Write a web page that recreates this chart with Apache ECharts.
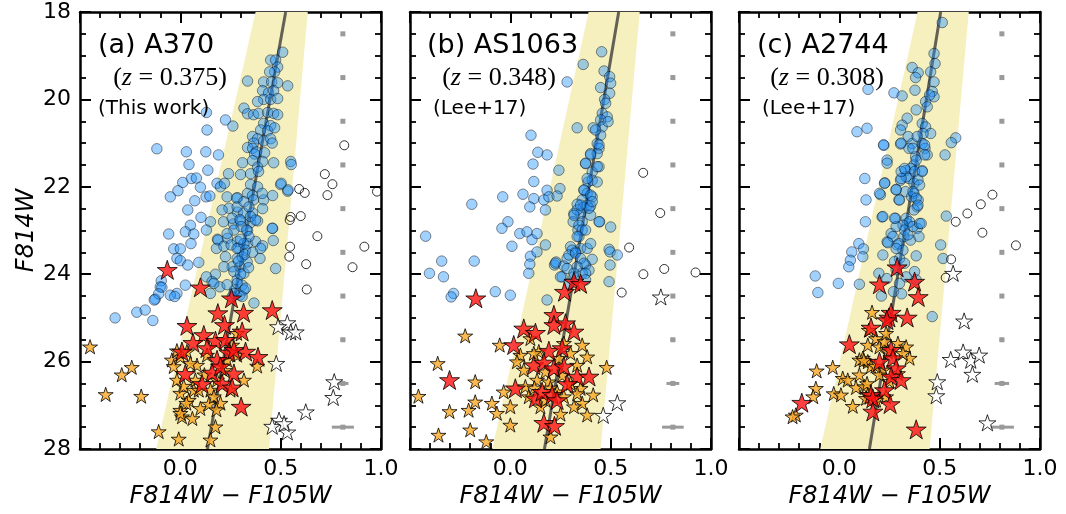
<!DOCTYPE html>
<html><head><meta charset="utf-8">
<script src="https://cdn.jsdelivr.net/npm/echarts@6/dist/echarts.min.js"></script>
<style>html,body{margin:0;padding:0;background:#fff}#c{width:1066px;height:514px}</style>
</head><body><div id="c"></div>
<script>
// ---------- DATA ----------
const panelNames = ['(a) A370', '(b) AS1063', '(c) A2744'];
const redshifts = ['0.375', '0.348', '0.308'];
const refs = ['(This work)', '(Lee+17)', '(Lee+17)'];
const xTicks = [-0.5, 0.0, 0.5, 1.0];
const yTicks = [18, 20, 22, 24, 26, 28];

// red-sequence line endpoints [x, mag]
const lineA = [[0.525, 18], [0.135, 28]];
const lineB = [[0.54, 18], [0.17, 28]];
const lineC = [[0.505, 18], [0.15, 28]];
// selection band corners [x, mag]
const bandA = [[0.375, 18], [0.635, 18], [0.442, 28], [-0.12, 28]];
const bandB = [[0.39, 18], [0.645, 18], [0.45, 28], [-0.09, 28]];
const bandC = [[0.39, 18], [0.645, 18], [0.45, 28], [-0.095, 28]];

// typical errors
const errColor = 0.81;
const errMags = [18.5, 19.5, 20.5, 21.5, 22.5, 23.5, 24.5, 25.5, 26.5, 27.5];
const errA = [0.002, 0.002, 0.002, 0.003, 0.003, 0.005, 0.008, 0.012, 0.028, 0.055];
const errB = [0.002, 0.002, 0.002, 0.003, 0.003, 0.005, 0.008, 0.012, 0.032, 0.054];
const errC = [0.002, 0.002, 0.002, 0.003, 0.003, 0.005, 0.008, 0.012, 0.036, 0.06];

// ---- Panel A (A370) ----
const blueA = [
[0.51,18.92],[0.45,19.1],[0.475,19.1],[0.485,19.26],[0.47,19.37],[0.445,19.37],[0.335,19.58],[0.415,19.6],[0.455,19.6],[0.485,19.62],[0.535,19.69],[0.41,19.8],[0.44,19.85],[0.465,19.8],[0.415,20.0],[0.45,20.0],[0.485,19.98],[0.385,20.05],[0.317,20.2],[0.335,20.33],[0.365,20.35],[0.39,20.32],[0.435,20.3],[0.465,20.32],[0.485,20.35],[0.415,20.55],[0.45,20.6],[0.40,20.7],[0.435,20.72],[0.47,20.65],
[0.13,20.3],[0.225,20.47],[0.262,20.61],[0.133,20.7],
[0.36,20.85],[0.385,20.9],[0.365,21.0],[0.415,20.95],[0.45,20.9],[0.335,21.1],[0.36,21.12],[0.38,21.2],[0.37,21.25],[0.42,21.22],[0.31,21.45],[0.36,21.4],[0.41,21.42],[0.465,21.45],[0.55,21.42],[0.385,21.55],[0.24,21.7],[0.30,21.72],[0.35,21.7],[0.39,21.65],[0.35,21.95],[0.385,22.0],[0.50,21.95],[0.535,22.1],[0.285,22.25],[0.335,22.15],[0.36,22.2],[0.365,22.3],[0.415,22.3],[0.46,22.2],[0.285,22.58],[0.315,22.6],[0.36,22.6],[0.41,22.5],[0.15,22.8],[0.215,22.8],[0.265,22.85],[0.30,22.78],[0.35,22.82],[0.385,22.78],[0.46,22.95],[0.335,23.0],[0.185,23.2],[0.235,23.18],[0.285,23.25],[0.335,23.3],[0.375,23.25],[0.41,23.35],[0.29,23.4],
[0.233,22.23],[0.28,22.26],[0.242,22.49],[0.283,22.46],[0.317,22.34],[0.258,22.72],[0.297,22.75],[0.303,22.91],[0.267,22.99],[0.233,23.07],[0.188,23.22],[0.18,23.41],[0.217,23.36],[0.253,23.33],[0.283,23.41],[0.225,23.6],[0.283,23.64],[0.258,23.83],[0.217,23.83],[0.175,24.0],[0.13,24.06],[0.158,24.17],[0.197,24.29],[0.15,24.44],
[0.458,22.95],[0.463,23.23],[0.4,23.41],[0.397,23.64],[0.475,23.87],[0.408,22.15],[0.503,21.92],[0.537,22.07],[0.553,21.49],[0.458,21.0],
[0.342,22.46],[0.35,22.68],[0.375,22.76],[0.33,22.99],[0.342,23.14],[0.317,23.3],[0.325,23.45],[0.308,23.6],[0.333,23.72],[0.297,23.83],[0.267,23.94],[0.317,23.98],[0.283,24.13],[0.308,24.25],[0.27,24.36],[0.297,24.48],[0.258,24.52],[0.283,24.21],[0.317,24.36],[0.308,24.51],[0.233,24.24],[0.167,24.21],[0.367,24.66],[0.325,24.32],[0.267,24.44],[0.3,23.2],[0.32,23.55],[0.29,23.7],[0.34,23.85],[0.3,24.0],[0.36,23.5],
[-0.117,21.13],[0.03,21.2],[0.127,21.2],[0.19,21.27],[0.043,21.49],[0.137,21.62],[0.055,21.81],[0.08,21.8],[0.012,21.9],[-0.012,22.09],[0.10,22.01],[-0.05,22.23],[0.072,22.32],[0.128,22.23],[0.147,22.21],[0.037,22.53],[0.103,22.7],[0.13,22.99],[0.05,22.88],[0.025,23.03],[0.067,23.08],[-0.058,23.08],[0.053,23.3],[-0.033,23.42],[0.0,23.42],[-0.017,23.64],[0.0,23.69],[0.037,23.79],[0.092,23.73],[-0.095,24.15],[-0.1,24.29],[0.025,24.25],[-0.017,24.44],[-0.05,24.48],[-0.125,24.57],[-0.092,24.3],[-0.108,24.45],[-0.13,24.59],[-0.028,24.51],[-0.217,24.87],[-0.175,24.82],[-0.325,25.0],[-0.137,25.06],[0.183,21.92],[0.2,22.0],[0.22,21.92],[0.208,22.53]
];
const openA = [[0.817,21.05],[0.72,21.71],[0.758,21.94],[0.733,22.19],[0.592,22.05],[0.62,22.14],[0.98,22.11],[0.55,22.69],[0.6,22.67],[0.545,22.76],[0.683,23.13],[0.917,23.37],[0.547,23.37],[0.543,23.6],[0.627,23.77],[0.858,23.84],[0.63,24.35]];
const orangeA = [[-0.45,25.66],[-0.242,26.13],[-0.292,26.3],[-0.372,26.75],[-0.195,26.79],[-0.108,27.6],[-0.008,27.77],[0.15,27.79],[0.175,27.49],[0.2,26.95],[0.1,27.07],[0.142,26.97],[0.0,27.11],[0.008,27.26],[0.042,26.88],[0.0,26.72],[0.017,26.56],[0.067,26.65],[0.15,26.65],[0.317,26.42],[0.383,26.1],[-0.042,25.96],[-0.033,26.11],[0.0,25.89],[-0.017,25.75],[0.083,26.08],[0.133,25.85],[0.233,25.96],[0.283,25.85],[0.258,25.62],[0.033,25.77],[0.075,26.42],[0.183,26.42],[-0.017,26.42],[0.283,25.35],[0.05,26.04],[0.167,26.8],[0.092,26.65],[0.25,26.65],[0.0,27.18],[0.12,26.3],[0.22,26.2],[0.03,26.95],[0.06,27.3],[0.18,27.1]];
const redA = [[-0.065,23.9],[0.1,24.3],[0.255,24.55],[0.187,24.89],[0.315,24.88],[0.458,24.82],[0.033,25.18],[0.22,25.16],[0.308,25.31],[0.117,25.39],[0.175,25.52],[0.063,25.57],[0.225,25.5],[0.008,25.77],[0.133,25.69],[0.242,25.79],[0.325,25.77],[0.387,25.89],[0.183,25.96],[0.267,25.73],[0.025,26.28],[0.158,26.25],[0.267,26.27],[0.108,26.51],[0.208,26.5],[0.258,26.59],[0.303,27.03],[0.2,26.11]];
const whiteA = [[0.533,25.11],[0.487,25.2],[0.55,25.32],[0.575,25.32],[0.478,26.04],[0.767,26.46],[0.762,26.82],[0.625,27.15],[0.492,27.34],[0.458,27.48],[0.533,27.61],[0.517,27.42]];

// ---- Panel B (AS1063) ----
const blueB = [
[0.455,18.91],[0.363,19.2],[0.467,19.35],[0.495,19.48],[0.5,19.63],[0.283,19.6],[0.45,19.73],[0.495,19.86],[0.47,20.0],[0.475,20.09],[0.458,20.32],[0.483,20.4],[0.45,20.47],[0.333,20.65],[0.413,20.65],[0.458,20.63],[0.487,20.51],[0.45,20.82],[0.103,20.82],[0.433,21.01],[0.442,21.12],[0.4,21.24],[0.433,21.24],[0.137,21.21],[0.183,21.27],[0.113,21.48],[0.375,21.47],[0.442,21.54],[0.408,21.66],[0.387,21.89],[0.408,21.85],[0.433,21.89],[0.242,21.62],[0.117,21.88],[0.183,22.08],[0.247,22.04],[0.367,22.08],[0.383,22.15],[0.408,22.23],[0.358,22.3],[0.063,22.17],[0.117,22.27],[0.167,22.3],[0.097,22.46],[0.192,22.23],[0.175,22.53],[-0.038,22.23],[-0.192,22.4],[0.333,22.4],[0.363,22.47],[0.383,22.42],[0.4,22.44],[0.35,22.61],[0.317,22.61],[0.445,22.8],[0.313,22.8],[0.358,22.8],[0.337,22.99],[0.342,23.14],[0.5,22.92],[-0.012,22.8],[-0.042,22.95],[0.047,23.07],[0.083,23.03],[0.108,23.21],[0.133,23.07],[-0.422,23.13],[0.008,23.36],[0.175,23.33],[0.492,23.43],[0.3,23.37],[0.35,23.41],[0.383,23.41],
[-0.342,23.7],[-0.403,23.98],[-0.333,24.06],[-0.18,23.7],[0.1,23.59],[0.097,23.77],[0.092,23.98],[0.22,23.79],[0.228,23.72],[-0.283,24.44],[-0.295,24.52],[-0.075,24.4],[0.0,24.48],[0.133,23.49],[0.183,24.59],[0.225,23.75],[0.267,23.81],[0.283,23.64],[0.325,23.49],[0.375,23.79],[0.392,23.91],[0.408,23.66],[0.358,23.98],[0.317,24.06],[0.258,24.06],[0.497,23.49],[0.533,23.56],[0.492,24.17],[0.308,23.45],[0.292,23.56],[0.325,23.52],[0.35,23.64],[0.367,23.75],[0.283,23.87],[0.333,23.83],[0.317,23.98],[0.375,23.98],[0.442,22.8],[0.4,22.65],[0.497,23.79],[0.25,24.06],[0.292,24.21],[0.375,24.13],[0.333,22.53],[0.392,22.49],[0.317,22.65],[0.342,22.88],[0.358,22.99],[0.333,23.14],[0.375,22.99],[0.4,23.3],[0.425,20.7],[0.442,21.04],[0.4,21.27],[0.433,21.54],[0.375,21.46],[0.383,21.81],[0.367,22.07],[0.4,22.19],[0.35,22.42],[0.408,22.34],[0.233,22.21]
];
const openB = [[0.662,21.68],[0.747,22.6],[0.592,23.39],[0.663,24.0],[0.767,23.88],[0.923,23.96],[0.555,24.42]];
const orangeB = [[-0.225,25.41],[-0.362,26.04],[-0.458,26.79],[-0.175,26.46],[-0.303,27.14],[-0.208,27.11],[-0.175,26.92],[-0.2,27.56],[-0.358,27.68],[-0.12,27.83],[-0.092,26.95],[-0.067,27.18],[0.0,27.03],[0.0,27.45],[-0.033,26.69],[-0.053,25.62],[0.05,25.85],[0.033,26.0],[0.067,26.19],[0.1,25.47],[0.142,25.77],[0.075,26.57],[0.133,26.42],[0.192,26.46],[0.258,26.31],[0.3,25.81],[0.358,25.62],[0.413,26.76],[0.333,26.08],[0.383,27.22],[0.48,26.13],[0.358,26.95],[0.317,27.03],[0.233,26.69],[0.2,27.72],[0.15,27.03],[0.267,25.58],[0.242,25.92],[0.175,26.23],[0.267,26.8],[0.35,26.61],[0.117,25.81],[0.092,26.8],[0.175,26.88],[0.333,26.73],[0.383,25.89],[0.2,26.6],[0.12,26.6],[0.25,27.2],[0.3,26.5]];
const redB = [[-0.172,24.55],[0.27,24.4],[0.317,24.17],[0.35,24.22],[0.217,24.93],[0.217,25.16],[0.275,25.12],[0.317,25.31],[0.067,25.24],[0.125,25.34],[0.017,25.62],[0.192,25.75],[0.258,25.69],[0.117,26.08],[0.167,26.02],[0.217,26.15],[0.267,26.11],[0.333,26.34],[0.392,26.34],[0.283,26.51],[-0.303,26.42],[0.025,26.61],[0.125,26.84],[0.158,26.69],[0.208,26.76],[0.167,27.4],[0.22,27.47],[0.233,26.88]];
const whiteB = [[0.75,24.52],[0.533,26.94],[0.463,27.23]];

// ---- Panel C (A2744) ----
const blueC = [
[0.513,18.24],[0.472,18.95],[0.477,19.18],[0.363,19.27],[0.393,19.39],[0.38,19.5],[0.455,19.37],[0.472,19.6],[0.463,19.82],[0.143,19.77],[0.272,19.85],[0.313,19.92],[0.377,19.79],[0.43,20.05],[0.438,20.17],[0.472,19.94],[0.45,19.9],[0.383,20.24],[0.338,20.43],[0.413,20.55],[0.43,20.63],[0.455,20.78],[0.417,20.78],[0.313,20.59],[0.305,20.7],[0.088,20.74],[0.138,20.66],[0.343,20.85],[0.363,21.01],[0.305,21.02],[0.413,21.01],[0.388,20.85],[0.222,21.05],[0.347,21.12],[0.427,21.12],[0.438,21.27],[0.58,20.88],[0.558,20.99],[0.527,21.27],[0.38,21.31],[0.372,21.5],[0.355,21.58],[0.238,21.39],[0.413,21.63],[0.33,21.63],[0.305,21.85],[0.347,21.81],[0.372,21.92],[0.127,21.81],[0.227,21.91],[0.283,22.06],[0.33,22.11],[0.372,22.15],[0.393,22.3],[0.36,22.23],[0.205,22.18],[0.133,22.3],[0.297,22.3],[0.388,22.46],[0.372,22.53],[0.13,22.8],[0.213,22.69],[0.28,22.72],[0.338,22.84],[0.388,22.95],[0.258,23.07],[0.322,23.14],[0.355,23.22],[0.238,23.26],[0.288,23.33],[0.097,23.3],[0.505,23.33],
[0.12,23.42],[0.062,23.49],[0.055,23.68],[0.047,23.83],[0.117,23.6],[-0.12,24.04],[-0.107,24.42],[-0.005,24.21],[0.1,24.23],[0.217,23.56],[0.197,23.98],[0.237,24.1],[0.517,23.64],[0.533,22.67],[0.463,24.97],
[0.425,21.04],[0.367,21.12],[0.425,21.27],[0.383,21.39],[0.375,21.65],[0.333,21.77],[0.308,21.81],[0.392,21.84],[0.4,21.96],[0.367,22.11],[0.383,22.26],[0.392,22.42],[0.333,22.72],[0.35,22.8],[0.317,22.88],[0.325,22.99],[0.283,22.91],[0.367,22.91],[0.4,22.84],[0.342,23.1],[0.267,23.14],[0.297,23.3],[0.317,23.45],[0.283,23.41],[0.242,23.28],[0.383,23.58],[0.3,23.64],[0.275,23.71],[0.325,23.75],[0.283,23.9],[0.333,24.06],[0.375,23.94],[0.383,24.13],[0.3,24.21],[0.283,22.07],[0.3,22.3],[0.217,22.68],[0.275,22.72],[0.408,22.84],[0.397,23.14],[0.238,21.46],[0.2,22.15],[0.225,21.92],[0.413,21.65],[0.22,21.04],[0.308,21.0],[0.308,21.65],[0.325,21.58],[0.27,24.4],[0.31,24.45],[0.21,24.5]
];
const openC = [[0.763,22.18],[0.705,22.4],[0.638,22.61],[0.58,22.8],[0.713,23.05],[0.88,23.34],[0.557,23.66],[0.53,24.08]];
const orangeC = [[0.163,24.87],[-0.113,26.21],[-0.033,26.13],[0.017,26.38],[0.042,26.42],[-0.117,26.61],[-0.13,26.8],[-0.028,26.73],[0.008,26.76],[0.083,26.59],[0.067,27.02],[-0.217,27.22],[-0.233,27.26],[0.125,26.57],[0.142,26.76],[0.117,25.92],[0.142,26.0],[0.158,26.11],[0.1,25.96],[0.142,25.62],[0.183,25.47],[0.2,25.66],[0.225,25.54],[0.292,25.58],[0.333,25.66],[0.35,25.92],[0.233,25.35],[0.217,26.19],[0.317,25.81],[0.242,25.77],[0.292,26.27],[0.133,26.84],[0.183,26.88],[0.233,26.8],[0.147,25.28],[0.122,25.97],[0.138,26.5],[0.2,26.3],[0.18,26.1],[0.25,26.45],[0.1,26.3]];
const redC = [[0.288,23.84],[0.2,24.23],[0.375,24.17],[0.393,24.52],[0.247,24.99],[0.338,24.99],[0.258,24.88],[0.237,25.05],[0.158,25.22],[0.05,25.6],[0.258,25.73],[0.2,26.0],[0.267,25.92],[0.283,26.15],[0.258,26.34],[0.308,26.42],[0.225,26.65],[0.158,26.76],[0.167,26.84],[0.253,26.97],[0.167,27.14],[-0.187,26.94],[0.383,27.55]];
const whiteC = [[0.567,23.98],[0.622,25.07],[0.555,25.95],[0.617,25.78],[0.655,25.97],[0.697,25.85],[0.663,26.29],[0.488,26.46],[0.483,26.78],[0.738,27.4]];

// ---------- STYLE / LAYOUT ----------
const panels = [
  {left: 80, blue: blueA, open: openA, orange: orangeA, red: redA, white: whiteA, line: lineA, band: bandA, err: errA},
  {left: 410, blue: blueB, open: openB, orange: orangeB, red: redB, white: whiteB, line: lineB, band: bandB, err: errB},
  {left: 739, blue: blueC, open: openC, orange: orangeC, red: redC, white: whiteC, line: lineC, band: bandC, err: errC}
];
const GRID_TOP = 12, GRID_H = 437, GRID_W = 301;
const STAR = 'path://M0,-100L22.45,-30.9L95.1,-30.9L36.3,11.8L58.8,80.9L0,38.2L-58.8,80.9L-36.3,11.8L-95.1,-30.9L-22.45,-30.9Z';
const FONT = 'DejaVu Sans';

const grids = [], xAxes = [], yAxes = [], series = [], graphics = [];

function axisCommon(extra) {
  return Object.assign({
    type: 'value',
    axisLine: {show: true, onZero: false, lineStyle: {color: '#000', width: 2.5}},
    axisTick: {show: true, inside: true, length: 11, lineStyle: {color: '#000', width: 2}},
    minorTick: {show: true, length: 6, lineStyle: {color: '#000', width: 1.8}},
    splitLine: {show: false},
    minorSplitLine: {show: false}
  }, extra);
}

panels.forEach((p, i) => {
  grids.push({left: p.left, top: GRID_TOP, width: GRID_W, height: GRID_H, containLabel: false});
  const xBase = {gridIndex: i, min: xTicks[0], max: xTicks[xTicks.length - 1], interval: 0.5};
  xAxes.push(axisCommon(Object.assign({}, xBase, {
    position: 'bottom',
    minorTick: {show: true, splitNumber: 5, length: 6, lineStyle: {color: '#000', width: 1.8}},
    axisLabel: {show: true, fontFamily: FONT, fontSize: 22, color: '#000', margin: 9,
      formatter: v => (v < -0.25 ? '' : v.toFixed(1))},
    name: '{i|F814W} − {i|F105W}', nameLocation: 'middle', nameGap: 26,
    nameTextStyle: {fontFamily: FONT, fontSize: 24, color: '#000',
      rich: {i: {fontFamily: FONT, fontSize: 24, fontStyle: 'italic', color: '#000'}}}
  })));
  xAxes.push(axisCommon(Object.assign({}, xBase, {
    position: 'top',
    minorTick: {show: true, splitNumber: 5, length: 6, lineStyle: {color: '#000', width: 1.8}},
    axisLabel: {show: false}
  })));
  const yBase = {gridIndex: i, min: yTicks[0], max: yTicks[yTicks.length - 1], interval: 2, inverse: true};
  yAxes.push(axisCommon(Object.assign({}, yBase, {
    position: 'left',
    minorTick: {show: true, splitNumber: 4, length: 6, lineStyle: {color: '#000', width: 1.8}},
    axisLabel: {show: i === 0, fontFamily: FONT, fontSize: 22, color: '#000', margin: 9},
    name: i === 0 ? 'F814W' : '', nameLocation: 'middle', nameGap: 40, nameRotate: 90,
    nameTextStyle: {fontFamily: FONT, fontSize: 24, fontStyle: 'italic', color: '#000'}
  })));
  yAxes.push(axisCommon(Object.assign({}, yBase, {
    position: 'right',
    minorTick: {show: true, splitNumber: 4, length: 6, lineStyle: {color: '#000', width: 1.8}},
    axisLabel: {show: false}
  })));

  const xi = 2 * i, yi = 2 * i;
  // band
  series.push({
    type: 'custom', xAxisIndex: xi, yAxisIndex: yi, z: 1, silent: true, clip: true,
    data: [0],
    renderItem: (params, api) => ({
      type: 'polygon',
      shape: {points: p.band.map(pt => api.coord(pt))},
      style: {fill: '#f6f0bf'}
    })
  });
  // red-sequence line
  series.push({
    type: 'line', xAxisIndex: xi, yAxisIndex: yi, z: 2, silent: true, symbol: 'none',
    data: p.line, lineStyle: {color: 'rgba(50,50,50,0.75)', width: 3}
  });
  // typical error bars
  series.push({
    type: 'custom', xAxisIndex: xi, yAxisIndex: yi, z: 2, silent: true,
    data: errMags.map((m, k) => [errColor, m, p.err[k]]),
    encode: {x: 0, y: 1},
    renderItem: (params, api) => {
      const x = api.value(0), y = api.value(1), e = api.value(2);
      const a = api.coord([x - e, y]), b = api.coord([x + e, y]), c = api.coord([x, y]);
      return {type: 'group', children: [
        {type: 'line', shape: {x1: a[0], y1: a[1], x2: b[0], y2: b[1]}, style: {stroke: '#9a9a9a', lineWidth: 3}},
        {type: 'rect', shape: {x: c[0] - 2.5, y: c[1] - 2.5, width: 5, height: 5}, style: {fill: '#9a9a9a'}}
      ]};
    }
  });
  // blue circles
  series.push({
    type: 'scatter', xAxisIndex: xi, yAxisIndex: yi, z: 3, silent: true,
    data: p.blue, symbol: 'circle', symbolSize: 10.5,
    itemStyle: {color: 'rgba(30,144,255,0.52)', borderColor: 'rgba(0,0,0,0.55)', borderWidth: 1}
  });
  // open circles
  series.push({
    type: 'scatter', xAxisIndex: xi, yAxisIndex: yi, z: 3, silent: true,
    data: p.open, symbol: 'circle', symbolSize: 9,
    itemStyle: {color: 'rgba(255,255,255,0)', borderColor: '#000', borderWidth: 1}
  });
  // white stars
  series.push({
    type: 'scatter', xAxisIndex: xi, yAxisIndex: yi, z: 4, silent: true,
    data: p.white, symbol: STAR, symbolSize: 17, symbolKeepAspect: true,
    itemStyle: {color: '#fff', borderColor: '#000', borderWidth: 1}
  });
  // orange stars
  series.push({
    type: 'scatter', xAxisIndex: xi, yAxisIndex: yi, z: 4, silent: true,
    data: p.orange, symbol: STAR, symbolSize: 15, symbolKeepAspect: true,
    itemStyle: {color: '#f9a825', borderColor: '#000', borderWidth: 1}
  });
  // red stars
  series.push({
    type: 'scatter', xAxisIndex: xi, yAxisIndex: yi, z: 5, silent: true,
    data: p.red, symbol: STAR, symbolSize: 20, symbolKeepAspect: true,
    itemStyle: {color: '#ff1010', borderColor: '#000', borderWidth: 1}
  });
});

// panel annotations
const titleX = [98, 427, 757];
const zX = [170, 499, 827];
const refX = [98, 433, 762];
for (let i = 0; i < 3; i++) {
  graphics.push({type: 'text', x: titleX[i], y: 46, z: 10,
    style: {text: panelNames[i], font: '27px "DejaVu Sans"', fill: '#000', textAlign: 'left', textVerticalAlign: 'middle'}});
  graphics.push({type: 'text', x: zX[i], y: 78, z: 10,
    style: {text: '{n|(}{z|z}{n| = ' + redshifts[i] + ')}', textAlign: 'center', textVerticalAlign: 'middle',
      rich: {n: {fontFamily: 'Liberation Serif', fontSize: 26, color: '#333'},
             z: {fontFamily: 'Liberation Serif', fontSize: 26, fontStyle: 'italic', color: '#333'}}}});
  graphics.push({type: 'text', x: refX[i], y: 109, z: 10,
    style: {text: refs[i], font: '20px "DejaVu Sans"', fill: '#000', textAlign: 'left', textVerticalAlign: 'middle'}});
}

const chart = echarts.init(document.getElementById('c'), null, {renderer: 'canvas'});
chart.setOption({
  animation: false,
  backgroundColor: '#fff',
  grid: grids, xAxis: xAxes, yAxis: yAxes, series: series, graphic: graphics
});
</script></body></html>
